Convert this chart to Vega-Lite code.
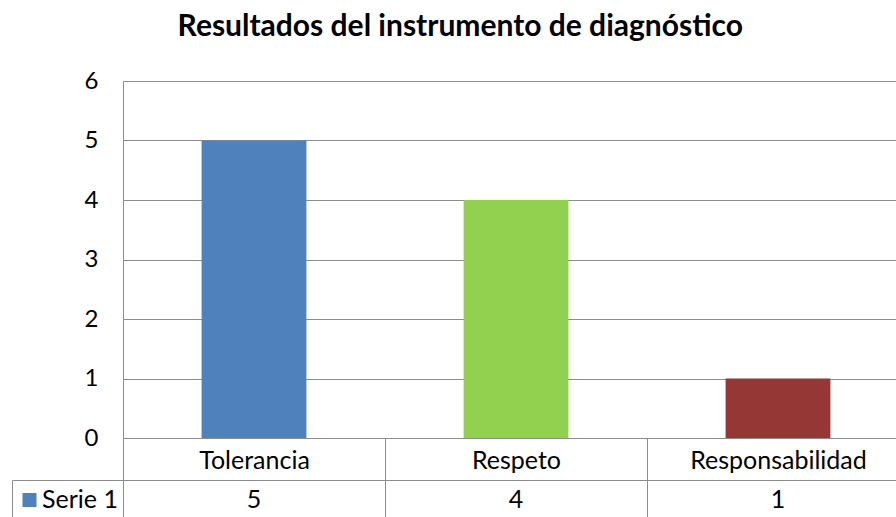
{
  "$schema": "https://vega.github.io/schema/vega-lite/v6.json",
  "padding": {"left": 11, "top": 12, "right": 0, "bottom": 0},
  "config": {"font": "Lato", "view": {"stroke": null}},
  "title": {"text": "Resultados del instrumento de diagnóstico", "fontSize": 30, "fontWeight": "bold", "color": "#000", "anchor": "middle", "offset": 27, "font": "Lato"},
  "data": {"values": [
    {"categoria": "Tolerancia", "valor": 5, "serie": "Serie 1"},
    {"categoria": "Respeto", "valor": 4, "serie": "Serie 1"},
    {"categoria": "Responsabilidad", "valor": 1, "serie": "Serie 1"}
  ]},
  "spacing": 42,
  "bounds": "flush",
  "resolve": {"legend": {"fill": "independent"}},
  "vconcat": [
    {
      "width": 786, "height": 357,
      "mark": {"type": "bar", "width": {"band": 0.4}},
      "encoding": {
        "x": {"field": "categoria", "type": "nominal", "sort": null,
          "scale": {"paddingInner": 0, "paddingOuter": 0},
          "axis": {"title": null, "labelAngle": 0, "labelFontSize": 25, "labelColor": "#000", "tickBand": "extent", "tickSize": 42, "tickColor": "#8c8c8c", "domainColor": "#8c8c8c", "labelPadding": -20, "labelBaseline": "middle"}},
        "y": {"field": "valor", "type": "quantitative", "scale": {"domain": [0, 6]},
          "axis": {"title": null, "values": [0, 1, 2, 3, 4, 5, 6], "ticks": false, "labelPadding": 25, "labelFontSize": 24, "labelColor": "#000", "gridColor": "#8c8c8c", "gridOpacity": 1, "domainColor": "#8c8c8c"}},
        "color": {"field": "categoria", "type": "nominal",
          "scale": {"domain": ["Tolerancia", "Respeto", "Responsabilidad"], "range": ["#4F81BD", "#92D050", "#953735"]}, "legend": null}
      }
    },
    {
      "width": 786, "height": 40,
      "view": {"stroke": "#8c8c8c"},
      "layer": [
        {
          "mark": {"type": "text", "fontSize": 25, "color": "#000"},
          "encoding": {
            "x": {"field": "categoria", "type": "nominal", "sort": null,
              "scale": {"paddingInner": 0, "paddingOuter": 0},
              "axis": {"title": null, "labels": false, "ticks": false, "domain": false, "grid": true, "tickBand": "extent", "gridColor": "#8c8c8c", "gridOpacity": 1}},
            "text": {"field": "valor"}
          }
        },
        {
          "mark": {"type": "point", "shape": "square", "filled": true, "opacity": 0},
          "encoding": {
            "x": {"field": "categoria", "type": "nominal", "sort": null},
            "fill": {"field": "serie", "type": "nominal", "scale": {"range": ["#4F81BD"]},
              "legend": {"title": null, "orient": "left", "offset": 0, "symbolType": "square", "symbolSize": 196, "symbolOpacity": 1, "symbolStrokeWidth": 0, "labelFontSize": 25, "labelColor": "#000", "labelOffset": 0, "strokeColor": "#8c8c8c", "padding": 5, "clipHeight": 30}}
          }
        }
      ]
    }
  ]
}
